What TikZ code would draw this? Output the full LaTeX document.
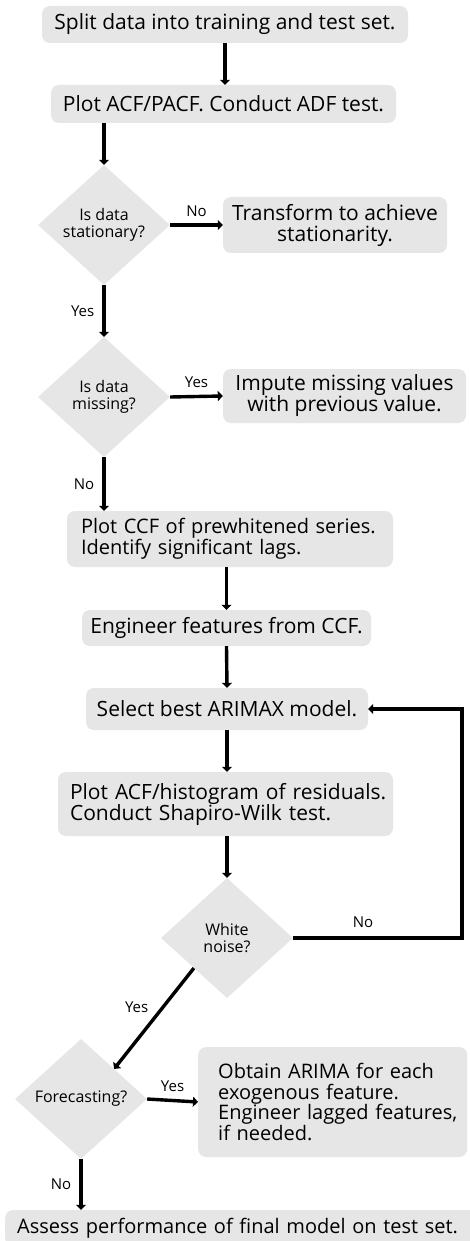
\documentclass[tikz,border=0pt]{standalone}
\usepackage{fontspec}
\setmainfont{Open Sans}
\usetikzlibrary{shapes.geometric,arrows.meta}
\newcommand\ovl[1]{\leavevmode\rlap{#1}}
\begin{document}
\begin{tikzpicture}[x=1pt,y=-1pt,
  box/.style={fill=boxgray,rounded corners=8pt,inner sep=0pt,font=\fontsize{21}{21}\selectfont},
  boxs/.style={box,font=\fontsize{20}{20.7}\selectfont},
  dia/.style={diamond,fill=boxgray,inner sep=0pt,minimum width=132pt,minimum height=120pt,align=center,font=\fontsize{16}{16.5}\selectfont},
  arr/.style={line width=3.4pt,-{Triangle[length=5pt,width=10pt]}},
  lbl/.style={font=\fontsize{15}{16}\selectfont,inner sep=0pt}]
\definecolor{boxgray}{HTML}{E6E6E6}
\useasboundingbox[fill=white] (0,0) rectangle (469,1241);
\node[box,minimum width=366pt,minimum height=37pt] (b1) at (225,24.5) {Split data into training and test set.};
\node[box,minimum width=345pt,minimum height=38pt] (b2) at (223.5,104) {Plot ACF/PACF. Conduct ADF test.};
\node[dia] (d1) at (104,225) {Is data\\stationary?};
\node[box,minimum width=224pt,minimum height=56pt,align=center] (t1) at (335,225) {Transform to achieve\\stationarity.};
\node[dia] (d2) at (104,397) {Is data\\missing?};
\node[box,minimum width=243pt,minimum height=54pt,align=center] (imp) at (344.5,396) {Impute missing values\\with previous value.};
\node[boxs,minimum width=326pt,minimum height=56pt,text width=298pt,align=left] (ccf) at (230,539) {\ovl{Plot CCF of prewhitened series.}\\\ovl{Identify significant lags.}};
\node[box,minimum width=289pt,minimum height=36pt] (eng) at (226.5,628) {Engineer features from CCF.};
\node[box,minimum width=282pt,minimum height=42pt] (sel) at (227,709) {Select best ARIMAX model.};
\node[box,minimum width=335pt,minimum height=64pt,text width=311pt,align=left] (res) at (225.5,804) {\ovl{Plot ACF/histogram of residuals.}\\\ovl{Conduct Shapiro-Wilk test.}};
\node[dia] (wn) at (227,938) {White\\noise?};
\node[dia] (fc) at (81,1099) {Forecasting?};
\node[boxs,minimum height=110pt,text width=229pt,inner xsep=20pt,align=left,anchor=west] (obt) at (198,1102) {\ovl{Obtain ARIMA for each}\\\ovl{exogenous feature.}\\\ovl{Engineer lagged features,}\\\ovl{if needed.}};
\node[boxs,minimum height=36pt,inner xsep=12pt,anchor=west,text width=470pt,align=left] (as) at (5,1228) {Assess performance of final model on test set.};
\coordinate (loopr) at (462,938);
\draw[arr] (b1.south) -- (b1.south |- b2.north);
\draw[arr] (d1.north |- b2.south) -- (d1.north);
\draw[arr] (d1.east) -- (t1.west) node[lbl,midway,above=7pt] {No};
\draw[arr] (d1.south) -- (d2.north) node[lbl,midway,left=8pt] {Yes};
\draw[arr] (d2.east) -- (imp.west) node[lbl,midway,above=7pt] {Yes};
\draw[arr] (d2.south) -- (d2.south |- ccf.north) node[lbl,midway,left=8pt] {No};
\draw[arr] (eng.north |- ccf.south) -- (eng.north);
\draw[arr] (eng.south) -- (sel.north);
\draw[arr] (sel.south) -- (sel.south |- res.north);
\draw[arr] (wn.north |- res.south) -- (wn.north);
\draw[arr] (wn.east) -- (loopr) |- (sel.east);
\node[lbl] (nolab) at (363,922) {No};
\draw[arr] (wn.south west) -- (fc.north east) node[lbl,midway,above left=4pt] {Yes};
\draw[arr] (fc.east) -- (obt.west) node[lbl,midway,above=7pt] {Yes};
\draw[arr] (fc.south) -- (fc.south |- as.north) node[lbl,midway,left=8pt] {No};
\end{tikzpicture}
\end{document}
